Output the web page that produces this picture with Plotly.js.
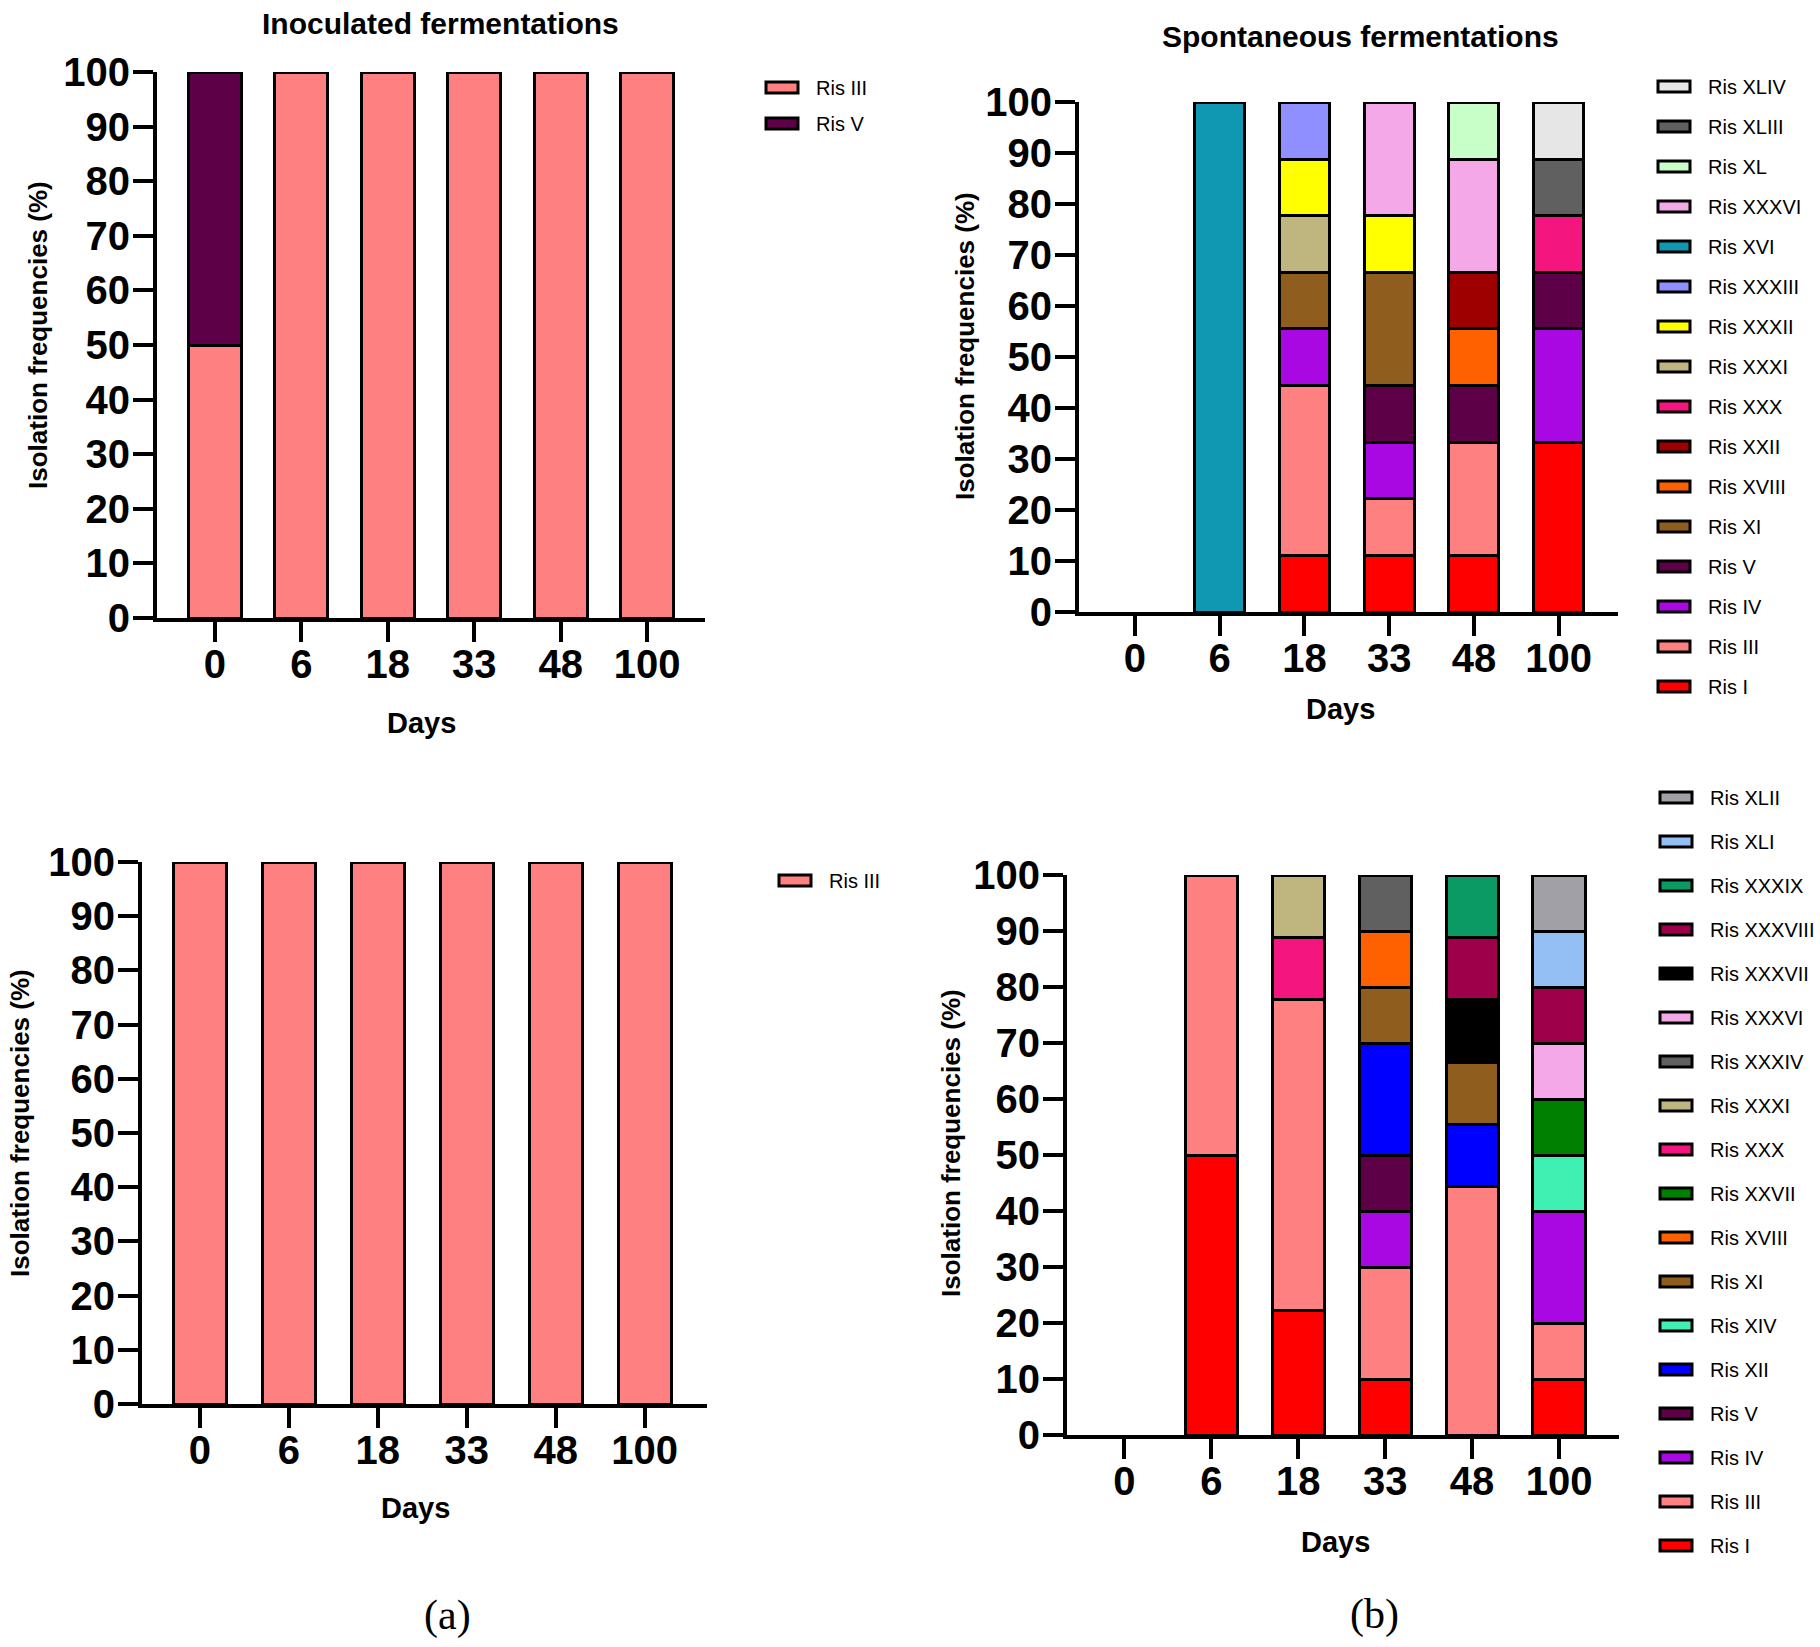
<!DOCTYPE html>
<html>
<head>
<meta charset="utf-8">
<script src="https://cdn.plot.ly/plotly-3.0.1.min.js"></script>
<style>
  html, body { margin: 0; padding: 0; background: #fff; }
  #chart { width: 1820px; height: 1647px; }
</style>
</head>
<body>
<div id="chart"></div>
<script>
// sampling days (categories on every x axis)
var days = ['0', '6', '18', '33', '48', '100'];

// Inoculated fermentations, top panel (% of isolates)
var inoc1RisIII = [50, 100, 100, 100, 100, 100];
var inoc1RisV   = [50, null, null, null, null, null];

// Inoculated fermentations, bottom panel
var inoc2RisIII = [100, 100, 100, 100, 100, 100];

// Spontaneous fermentations, top panel
var sp1RisI      = [null, null, 11.1, 11.1, 11.1, 33.3];
var sp1RisIII    = [null, null, 33.3, 11.1, 22.2, null];
var sp1RisIV     = [null, null, 11.1, 11.1, null, 22.2];
var sp1RisV      = [null, null, null, 11.1, 11.1, 11.1];
var sp1RisXI     = [null, null, 11.1, 22.2, null, null];
var sp1RisXVIII  = [null, null, null, null, 11.1, null];
var sp1RisXXII   = [null, null, null, null, 11.1, null];
var sp1RisXXX    = [null, null, null, null, null, 11.1];
var sp1RisXXXI   = [null, null, 11.1, null, null, null];
var sp1RisXXXII  = [null, null, 11.1, 11.1, null, null];
var sp1RisXXXIII = [null, null, 11.1, null, null, null];
var sp1RisXVI    = [null, 100, null, null, null, null];
var sp1RisXXXVI  = [null, null, null, 22.2, 22.2, null];
var sp1RisXL     = [null, null, null, null, 11.1, null];
var sp1RisXLIII  = [null, null, null, null, null, 11.1];
var sp1RisXLIV   = [null, null, null, null, null, 11.1];

// Spontaneous fermentations, bottom panel
var sp2RisI       = [null, 50, 22.2, 10, null, 10];
var sp2RisIII     = [null, 50, 55.6, 20, 44.4, 10];
var sp2RisIV      = [null, null, null, 10, null, 20];
var sp2RisV       = [null, null, null, 10, null, null];
var sp2RisXII     = [null, null, null, 20, 11.1, null];
var sp2RisXIV     = [null, null, null, null, null, 10];
var sp2RisXI      = [null, null, null, 10, 11.1, null];
var sp2RisXVIII   = [null, null, null, 10, null, null];
var sp2RisXXVII   = [null, null, null, null, null, 10];
var sp2RisXXX     = [null, null, 11.1, null, null, null];
var sp2RisXXXI    = [null, null, 11.1, null, null, null];
var sp2RisXXXIV   = [null, null, null, 10, null, null];
var sp2RisXXXVI   = [null, null, null, null, null, 10];
var sp2RisXXXVII  = [null, null, null, null, 11.1, null];
var sp2RisXXXVIII = [null, null, null, null, 11.1, 10];
var sp2RisXXXIX   = [null, null, null, null, 11.1, null];
var sp2RisXLI     = [null, null, null, null, null, 10];
var sp2RisXLII    = [null, null, null, null, null, 10];

// one colour per strain, same in every panel
var colors = {
  'Ris I': '#FF0000', 'Ris III': '#FF8080', 'Ris IV': '#A908E2', 'Ris V': '#5E0048',
  'Ris XI': '#8F5E1E', 'Ris XII': '#0000FF', 'Ris XIV': '#40F0B2', 'Ris XVI': '#1098B2',
  'Ris XVIII': '#FF6100', 'Ris XXII': '#9E0000', 'Ris XXVII': '#008000', 'Ris XXX': '#F5157F',
  'Ris XXXI': '#BFB57E', 'Ris XXXII': '#FFFF00', 'Ris XXXIII': '#8F8FFF', 'Ris XXXIV': '#606060',
  'Ris XXXVI': '#F5A8E8', 'Ris XXXVII': '#000000', 'Ris XXXVIII': '#9E0049', 'Ris XXXIX': '#0B9A63',
  'Ris XL': '#C8FFC8', 'Ris XLI': '#93BFF5', 'Ris XLII': '#A1A0A6', 'Ris XLIII': '#606060',
  'Ris XLIV': '#E6E6E6'
};

var W = 1820, H = 1647;
var FONT = 'Liberation Sans, Arial, sans-serif';

function px(x) { return x / W; }
function py(y) { return 1 - y / H; }

var traces = [];
// reversedLegend: topmost stack segment listed first, like the stacks
function addBars(panel, list, barWidth, reversedLegend) {
  list.forEach(function (s, i) {
    traces.push({
      type: 'bar',
      x: days,
      y: s[1],
      name: s[0],
      xaxis: 'x' + (panel === 1 ? '' : panel),
      yaxis: 'y' + (panel === 1 ? '' : panel),
      legend: 'legend' + (panel === 1 ? '' : panel),
      legendgroup: 'p' + panel + '_' + i,
      legendrank: reversedLegend ? 1000 - i : 1000 + i,
      width: barWidth,
      marker: { color: colors[s[0]], line: { color: '#000', width: 3 } },
      hoverinfo: 'name+y'
    });
  });
}

addBars(1, [['Ris III', inoc1RisIII], ['Ris V', inoc1RisV]], 0.61, false);
addBars(2, [
  ['Ris I', sp1RisI], ['Ris III', sp1RisIII], ['Ris IV', sp1RisIV], ['Ris V', sp1RisV],
  ['Ris XI', sp1RisXI], ['Ris XVIII', sp1RisXVIII], ['Ris XXII', sp1RisXXII], ['Ris XXX', sp1RisXXX],
  ['Ris XXXI', sp1RisXXXI], ['Ris XXXII', sp1RisXXXII], ['Ris XXXIII', sp1RisXXXIII], ['Ris XVI', sp1RisXVI],
  ['Ris XXXVI', sp1RisXXXVI], ['Ris XL', sp1RisXL], ['Ris XLIII', sp1RisXLIII], ['Ris XLIV', sp1RisXLIV]
], 0.59, true);
addBars(3, [['Ris III', inoc2RisIII]], 0.6, false);
addBars(4, [
  ['Ris I', sp2RisI], ['Ris III', sp2RisIII], ['Ris IV', sp2RisIV], ['Ris V', sp2RisV],
  ['Ris XII', sp2RisXII], ['Ris XIV', sp2RisXIV], ['Ris XI', sp2RisXI], ['Ris XVIII', sp2RisXVIII],
  ['Ris XXVII', sp2RisXXVII], ['Ris XXX', sp2RisXXX], ['Ris XXXI', sp2RisXXXI], ['Ris XXXIV', sp2RisXXXIV],
  ['Ris XXXVI', sp2RisXXXVI], ['Ris XXXVII', sp2RisXXXVII], ['Ris XXXVIII', sp2RisXXXVIII],
  ['Ris XXXIX', sp2RisXXXIX], ['Ris XLI', sp2RisXLI], ['Ris XLII', sp2RisXLII]
], 0.6, true);

function xAxis(x0, x1, yName, r) {
  return {
    domain: [px(x0), px(x1)], anchor: yName, type: 'category', categoryarray: days,
    range: r, showline: true, linewidth: 4, linecolor: '#000',
    ticks: 'outside', ticklen: 20, tickwidth: 4, tickcolor: '#000',
    ticklabelstandoff: -12,
    tickfont: { family: FONT, size: 40, color: '#000', weight: 'bold' },
    showgrid: false, zeroline: false, fixedrange: true
  };
}
function yAxis(yTop, yBot, xName) {
  return {
    domain: [py(yBot), py(yTop)], anchor: xName, range: [0, 100], tick0: 0, dtick: 10,
    showline: true, linewidth: 4, linecolor: '#000',
    ticks: 'outside', ticklen: 20, tickwidth: 4, tickcolor: '#000',
    ticklabelstandoff: -5,
    tickfont: { family: FONT, size: 40, color: '#000', weight: 'bold' },
    showgrid: false, zeroline: false, fixedrange: true
  };
}
function legendAt(x, y, gap) {
  return {
    x: px(x), y: py(y), xanchor: 'left', yanchor: 'top',
    traceorder: 'grouped', tracegroupgap: gap, itemwidth: 58,
    font: { family: FONT, size: 20, color: '#000' },
    bgcolor: 'rgba(0,0,0,0)', borderwidth: 0, itemclick: false, itemdoubleclick: false
  };
}
function label(text, x, y, size, opts) {
  return Object.assign({
    text: text, xref: 'paper', yref: 'paper', x: px(x), y: py(y),
    xanchor: 'center', yanchor: 'middle', showarrow: false,
    font: { family: FONT, size: size, color: '#000', weight: 'bold' }
  }, opts || {});
}

var yTitle = 'Isolation frequencies (%)';
var serif = { family: 'Liberation Serif, Times New Roman, serif', size: 42, color: '#000' };

var layout = {
  width: W, height: H,
  margin: { l: 0, r: 0, t: 0, b: 0 },
  paper_bgcolor: '#fff', plot_bgcolor: '#fff',
  barmode: 'stack', showlegend: true,
  xaxis:  xAxis(157, 705, 'y', [-0.67, 5.67]),
  yaxis:  yAxis(72, 618, 'x'),
  xaxis2: xAxis(1079, 1618, 'y2', [-0.66, 5.70]),
  yaxis2: yAxis(102, 612, 'x2'),
  xaxis3: xAxis(142, 707, 'y3', [-0.65, 5.70]),
  yaxis3: yAxis(862, 1404, 'x3'),
  xaxis4: xAxis(1067, 1619, 'y4', [-0.66, 5.69]),
  yaxis4: yAxis(875, 1435, 'x4'),
  legend:  legendAt(748, 68, 7),
  legend2: legendAt(1640, 67, 11),
  legend3: legendAt(761, 861, 7),
  legend4: legendAt(1642, 778, 15),
  annotations: [
    label('Inoculated fermentations', 440, 23, 30),
    label('Spontaneous fermentations', 1360, 36, 30),
    label('Days', 421, 723, 29),
    label('Days', 1340, 709, 29),
    label('Days', 415, 1508, 29),
    label('Days', 1335, 1542, 29),
    label(yTitle, 38, 335, 26, { textangle: -90 }),
    label(yTitle, 965, 346, 26, { textangle: -90 }),
    label(yTitle, 20, 1123, 26, { textangle: -90 }),
    label(yTitle, 951, 1143, 26, { textangle: -90 }),
    label('(a)', 447, 1615, 42, { font: serif }),
    label('(b)', 1374, 1614, 42, { font: serif })
  ]
};

// GraphPad-style legend keys are wide flat boxes with a heavy outline
function widenLegendKeys() {
  document.querySelectorAll('g.legendpoints path').forEach(function (p) {
    var d = p.getAttribute('d') || '';
    if (/^M6,6H-6V-6H6Z/.test(d)) {
      p.setAttribute('d', 'M16,5.5H-16V-5.5H16Z');
      p.style.strokeWidth = '3px';
    }
  });
}

Plotly.newPlot('chart', traces, layout, { displayModeBar: false })
  .then(widenLegendKeys);
</script>
</body>
</html>
